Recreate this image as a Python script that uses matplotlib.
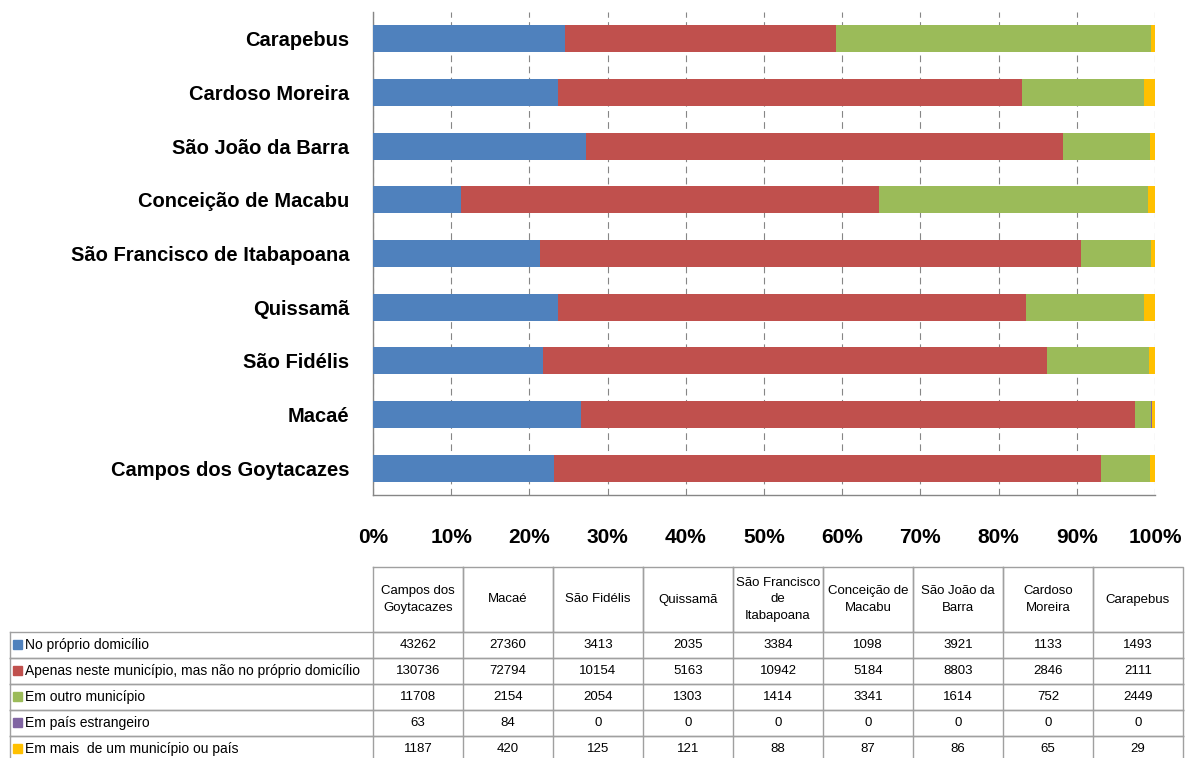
import numpy as np
import matplotlib.pyplot as plt
import matplotlib as mpl

mpl.rcParams.update({"font.family": ["Liberation Sans", "DejaVu Sans"]})

BLUE, RED, GREEN, PURPLE, GOLD = "#4F81BD", "#C0504D", "#9BBB59", "#8064A2", "#FFC000"
GRID = "#868686"
BORDER = "#A0A0A0"

municipios = ["Campos dos Goytacazes", "Macaé", "São Fidélis", "Quissamã",
              "São Francisco de Itabapoana", "Conceição de Macabu",
              "São João da Barra", "Cardoso Moreira", "Carapebus"]
col_headers = ["Campos dos\nGoytacazes", "Macaé", "São Fidélis", "Quissamã",
               "São Francisco\nde\nItabapoana", "Conceição de\nMacabu",
               "São João da\nBarra", "Cardoso\nMoreira", "Carapebus"]
series_names = ["No próprio domicílio",
                "Apenas neste município, mas não no próprio domicílio",
                "Em outro município",
                "Em país estrangeiro",
                "Em mais  de um município ou país"]
proprio = [43262, 27360, 3413, 2035, 3384, 1098, 3921, 1133, 1493]
neste_mun = [130736, 72794, 10154, 5163, 10942, 5184, 8803, 2846, 2111]
outro_mun = [11708, 2154, 2054, 1303, 1414, 3341, 1614, 752, 2449]
estrangeiro = [63, 84, 0, 0, 0, 0, 0, 0, 0]
mais_de_um = [1187, 420, 125, 121, 88, 87, 86, 65, 29]
colors = [BLUE, RED, GREEN, PURPLE, GOLD]

data = np.array([proprio, neste_mun, outro_mun, estrangeiro, mais_de_um], dtype=float)
shares = data / data.sum(axis=0)

W, H = 1186, 758
fig = plt.figure(figsize=(W / 100, H / 100), dpi=100)

# ---- stacked 100% bar chart
ax = fig.add_axes([373 / W, 1 - 495 / H, (1155 - 373) / W, (495 - 12) / H])
y = np.arange(len(municipios))
left = np.zeros(len(municipios))
for s, c in zip(shares, colors):
    ax.barh(y, s, left=left, height=0.5, color=c, zorder=3)
    left += s
ax.set_xlim(0, 1)
ax.set_ylim(-0.5, len(municipios) - 0.5)
ax.set_xticks(np.linspace(0, 1, 11))
ax.set_xticklabels([f"{int(round(t * 100))}%" for t in np.linspace(0, 1, 11)],
                   fontsize=15, fontweight="bold")
ax.set_yticks(y)
ax.set_yticklabels(municipios, fontsize=14.5, fontweight="bold")
ax.tick_params(axis="x", length=0, pad=24)
ax.tick_params(axis="y", length=0, pad=17)
ax.grid(axis="x", color=GRID, linestyle=(0, (6, 4)), linewidth=0.8, zorder=0)
for sp in ["top", "right"]:
    ax.spines[sp].set_visible(False)
for sp in ["left", "bottom"]:
    ax.spines[sp].set_color(GRID)
    ax.spines[sp].set_linewidth(1.0)

# ---- data table (pixel coordinates)
tb = fig.add_axes([0, 0, 1, 1])
tb.set_xlim(0, W)
tb.set_ylim(H, 0)
tb.axis("off")

col_x = np.linspace(373, 1183, len(municipios) + 1)
head_top, head_bot = 567, 632
row_h = 26
label_left = 10
lw = 1.0

# header cells
for i, hdr in enumerate(col_headers):
    x0, x1 = col_x[i], col_x[i + 1]
    tb.plot([x0, x1, x1, x0, x0], [head_top, head_top, head_bot, head_bot, head_top],
            color=BORDER, lw=lw)
    tb.text((x0 + x1) / 2, (head_top + head_bot) / 2, hdr, ha="center", va="center",
            fontsize=9.5, linespacing=1.5)

# data rows
for r, (name, c) in enumerate(zip(series_names, colors)):
    y0 = head_bot + r * row_h
    y1 = y0 + row_h
    tb.plot([label_left, col_x[-1]], [y0, y0], color=BORDER, lw=lw)
    tb.plot([label_left, col_x[-1]], [y1, y1], color=BORDER, lw=lw)
    tb.plot([label_left, label_left], [y0, y1], color=BORDER, lw=lw)
    for xv in col_x:
        tb.plot([xv, xv], [y0, y1], color=BORDER, lw=lw)
    tb.add_patch(plt.Rectangle((13, y0 + 8), 9, 9, color=c))
    tb.text(25, (y0 + y1) / 2, name, ha="left", va="center", fontsize=10)
    for i in range(len(municipios)):
        tb.text((col_x[i] + col_x[i + 1]) / 2, (y0 + y1) / 2, f"{int(data[r, i])}",
                ha="center", va="center", fontsize=9.5)

fig.savefig("out.png", dpi=100)
